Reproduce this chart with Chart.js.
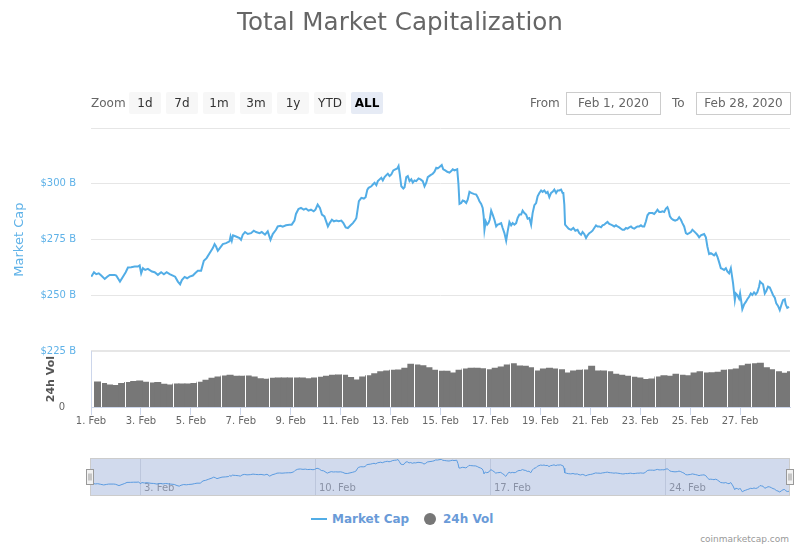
<!DOCTYPE html>
<html>
<head>
<meta charset="utf-8">
<script src="https://cdn.jsdelivr.net/npm/chart.js@4.4.1/dist/chart.umd.min.js"></script>
<style>
html,body{margin:0;padding:0;background:#fff;}
body{width:800px;height:550px;position:relative;overflow:hidden;font-family:'DejaVu Sans',sans-serif;}
canvas{position:absolute;left:0;}
#main{top:0;}
#nav{top:440px;}
.zoomlbl{position:absolute;left:91px;top:95px;font-size:12px;color:#666;line-height:16px;}
.btn{position:absolute;top:92px;width:32px;height:22px;background:#f7f7f7;border-radius:2px;font-size:12px;color:#333;text-align:center;line-height:22px;}
.btn.sel{background:#e6ebf5;font-weight:bold;color:#000;}
.lbl{position:absolute;top:95px;font-size:12px;color:#666;line-height:16px;}
.inp{position:absolute;top:92px;height:23px;box-sizing:border-box;border:1px solid #ccc;font-size:12px;color:#666;text-align:center;line-height:21px;}
.leg{position:absolute;font-size:12px;font-weight:bold;color:#6a9bd8;line-height:14px;top:512px;}
.credits{position:absolute;right:11px;top:534px;font-size:9px;color:#999;line-height:11px;}
</style>
</head>
<body>
<canvas id="main" width="800" height="437"></canvas>
<canvas id="nav" width="800" height="70"></canvas>

<div class="zoomlbl">Zoom</div>
<div class="btn" style="left:129px">1d</div>
<div class="btn" style="left:166px">7d</div>
<div class="btn" style="left:203px">1m</div>
<div class="btn" style="left:240px">3m</div>
<div class="btn" style="left:277px">1y</div>
<div class="btn" style="left:314px">YTD</div>
<div class="btn sel" style="left:351px">ALL</div>
<div class="lbl" style="left:530px">From</div>
<div class="inp" style="left:566px;width:95px">Feb 1, 2020</div>
<div class="lbl" style="left:672px">To</div>
<div class="inp" style="left:696px;width:95px">Feb 28, 2020</div>

<div style="position:absolute;left:311px;top:518px;width:16px;height:2px;background:#52ade6"></div>
<div class="leg" style="left:332px">Market Cap</div>
<div style="position:absolute;left:424px;top:513px;width:12px;height:12px;border-radius:50%;background:#777"></div>
<div class="leg" style="left:443px">24h Vol</div>
<div class="credits">coinmarketcap.com</div>

<script>
// ---- data (days since Feb 1, 2020 00:00 ; values in billions USD) ----
const mcapDays = [0.01,0.12,0.21,0.31,0.41,0.55,0.65,0.75,0.95,1.01,1.16,1.28,1.39,1.48,1.61,1.75,1.88,1.95,2.01,2.08,2.17,2.28,2.44,2.55,2.68,2.81,2.92,3.03,3.15,3.28,3.37,3.48,3.57,3.64,3.75,3.85,3.95,4.08,4.17,4.28,4.41,4.52,4.63,4.75,4.88,4.95,5.01,5.08,5.16,5.28,5.41,5.55,5.59,5.64,5.69,5.81,5.95,6.01,6.08,6.17,6.28,6.41,6.52,6.61,6.75,6.84,6.97,7.08,7.19,7.28,7.41,7.48,7.59,7.68,7.81,7.95,8.04,8.15,8.21,8.31,8.41,8.52,8.61,8.71,8.81,8.92,8.99,9.08,9.17,9.25,9.35,
9.49,9.56,9.65,9.73,9.83,9.92,10.03,10.11,10.20,10.29,10.40,10.49,10.59,10.63,10.69,10.73,10.83,10.93,11.00,11.07,11.12,11.23,11.29,11.36,11.43,11.49,11.56,11.63,11.69,11.76,11.83,11.89,11.96,12.03,12.11,12.19,12.27,12.32,12.37,12.43,12.51,12.56,12.63,12.69,12.76,12.83,12.89,12.96,13.03,13.12,13.20,13.29,13.36,13.43,13.49,13.60,13.69,13.76,13.83,13.89,13.96,14.05,14.11,14.19,14.27,14.36,14.43,14.49,14.56,14.67,14.72,14.76,14.83,14.89,14.96,15.03,15.09,15.16,15.23,15.33,15.43,15.49,15.56,15.63,15.69,15.73,15.76,15.81,15.87,15.92,15.97,16.03,16.09,16.16,16.23,16.29,16.36,16.43,16.49,16.56,16.63,16.69,16.76,16.83,16.89,16.96,17.03,17.09,17.16,17.23,17.29,17.36,17.43,17.49,17.56,17.63,17.69,17.76,17.83,17.89,17.96,18.03,18.09,18.16,18.23,18.29,18.36,18.43,18.49,18.56,18.63,18.69,18.76,18.83,18.89,
18.92,18.96,18.99,19.05,19.13,19.23,19.32,19.40,19.49,19.56,19.63,19.69,19.76,19.83,19.89,19.96,20.03,20.09,20.16,20.23,20.29,20.36,20.43,20.49,20.56,20.63,20.69,20.76,20.83,20.89,20.96,21.03,21.09,21.16,21.23,21.29,21.36,21.43,21.49,21.56,21.63,21.69,21.76,21.83,21.89,21.96,22.03,22.09,22.16,22.23,22.29,22.36,22.43,22.49,22.56,22.63,22.69,22.76,22.83,22.89,22.96,23.03,23.09,23.13,23.19,23.25,23.32,23.40,23.49,23.56,23.63,23.69,23.76,23.83,23.89,23.96,24.03,24.09,24.16,24.23,24.29,24.36,24.43,24.49,24.56,24.63,24.69,24.76,24.83,24.89,24.96,25.03,25.09,25.16,25.23,25.29,25.36,25.43,25.49,25.56,25.63,25.67,25.72,25.79,25.83,25.89,25.96,26.00,26.05,26.09,26.16,26.23,26.29,26.36,26.43,26.49,26.56,26.63,26.69,26.76,26.80,26.87,26.92,26.99,27.05,27.12,27.19,27.25,27.32,27.39,27.45,27.52,27.59,27.65,27.72,27.79,27.83,27.89,27.96];
const mcapValues = [258.4,260.4,259.5,259.9,258.9,257.4,258.4,259.2,259.2,258.9,256.2,258.4,260.4,262.5,262.6,262.9,262.9,263.4,259.9,262.2,261.4,261.9,260.7,260.4,259.2,260.4,259.5,260.4,259.5,258.9,258.4,256.2,255.0,256.9,258.3,257.7,258.4,258.9,259.9,261.0,261.0,265.5,266.7,268.9,271.2,273.0,271.9,270.0,271.2,273.0,273.4,274.2,276.4,274.5,276.9,276.4,275.7,274.9,277.2,278.4,277.5,277.9,279.0,278.4,277.9,278.4,277.2,278.7,274.9,277.5,279.4,280.9,281.2,280.8,281.4,281.7,281.7,283.5,286.5,288.7,289.2,288.4,288.9,288.0,288.4,287.7,288.4,290.7,289.2,286.2,285.4,
280.9,282.4,283.9,283.2,283.5,283.2,283.5,282.4,280.5,280.2,281.4,282.4,283.9,284.7,289.2,292.2,293.7,293.4,294.0,297.4,298.2,298.9,299.7,300.5,299.4,301.2,302.0,302.7,301.5,303.0,303.9,304.5,303.5,304.2,306.0,306.5,306.9,308.0,304.2,298.9,297.9,298.5,303.0,303.5,301.2,302.0,300.5,301.5,301.2,302.4,302.0,301.2,298.9,300.5,303.0,303.9,304.5,305.4,307.2,306.9,307.5,308.4,306.5,306.0,305.4,305.0,305.7,306.5,306.0,306.5,299.7,291.0,291.4,292.5,292.2,291.4,292.9,296.4,295.9,295.5,295.2,294.0,292.2,291.0,289.2,285.4,279.4,283.2,281.7,282.4,283.9,288.0,286.2,283.9,280.9,281.7,282.0,282.4,280.2,277.9,274.5,278.7,282.9,281.4,282.4,281.7,282.4,284.7,286.2,286.2,288.0,286.9,286.2,284.4,284.7,281.7,286.9,290.4,291.4,294.4,295.9,297.0,296.4,297.0,295.9,296.4,294.0,295.9,296.4,297.4,295.9,297.0,297.0,297.4,295.9,
295.9,290.7,281.7,280.9,279.9,279.4,280.2,279.0,279.4,277.9,277.2,278.4,277.5,275.7,276.9,277.9,278.4,279.0,280.2,281.4,280.9,280.9,280.5,281.4,281.7,282.4,282.9,282.0,281.7,281.4,280.9,281.4,280.9,280.5,279.9,279.4,279.4,280.2,279.9,280.5,280.9,280.2,279.9,280.5,280.9,280.9,281.4,280.9,280.9,283.2,285.9,286.9,286.9,286.9,286.5,287.4,288.4,287.4,287.4,287.7,287.4,288.9,289.5,288.4,285.4,284.4,283.9,283.5,283.9,285.0,283.9,282.4,280.9,277.9,277.5,277.9,278.4,279.4,278.7,277.9,277.2,276.0,276.9,277.2,277.5,276.0,271.9,268.5,268.9,268.5,267.9,268.9,267.4,264.9,262.2,261.9,261.4,262.2,260.7,259.9,262.2,259.2,255.4,247.9,250.9,250.2,248.6,250.9,247.1,243.8,245.9,247.1,248.3,249.4,250.9,250.2,251.4,250.5,251.4,253.9,256.2,255.4,255.0,250.9,252.0,253.9,253.5,252.0,250.2,249.0,246.4,245.3,243.4,245.6,247.9,248.3,245.9,244.4,244.9];

// 24h volume, billions USD, 116 evenly spaced samples from Feb 1 to Feb 29
const volValues = [91.6,85.7,80.9,78.5, 85.7,89.3,92.8,95.2, 90.4,88.1,89.3,83.3, 80.9,84.5,84.5,84.5,
  85.7,90.4,97.6,104.7, 109.5,113.1,115.4,111.9, 111.9,113.1,109.5,103.5, 101.2,104.7,105.9,105.9,
  105.9,105.9,105.9,103.5, 105.9,108.3,111.9,115.4, 116.6,115.4,107.1,98.8, 109.5,114.2,121.4,128.5,
  130.9,133.3,134.5,140.4, 154.7,152.3,149.9,142.8, 133.3,129.7,129.7,123.8, 133.3,138.0,140.4,140.4,
  139.2,135.7,140.4,145.2, 152.3,157.1,148.8,147.6, 142.8,130.9,138.0,140.4, 138.0,135.7,123.8,130.9,
  133.3,134.5,147.6,130.9, 130.9,128.5,119.0,115.4, 111.9,108.3,105.9,100.0, 102.3,109.5,114.2,111.9,
  119.0,115.4,114.2,123.8, 128.5,123.8,125.0,126.1, 133.3,135.7,138.0,149.9, 154.7,157.1,158.3,142.8,
  135.7,128.5,122.6,128.5];
const volLabels = volValues.map((v, i) => 'P' + i);

const capTicks = [225, 250, 275, 300, 325];
const dayTicks = [0,2,4,6,8,10,12,14,16,18,20,22,24,26];
const navTicks = [2, 9, 16, 23];
const monthName = 'Feb';

// ---- styles ----
const LINE = '#52ade6';
const BLUE_TXT = '#5fb2e8';
Chart.defaults.font.family = "'DejaVu Sans', sans-serif";
Chart.defaults.color = '#666';

const mcapPoints = mcapDays.map((d, i) => ({x: d, y: mcapValues[i]}));
const dayLabel = v => (v + 1) + '. ' + monthName;

// thin white separators between groups of volume columns (uses the bar elements' own geometry)
const volGapPlugin = {
  id: 'volGaps',
  afterDatasetDraw(chart, args) {
    if (args.meta.type !== 'bar') return;
    const ctx = chart.ctx;
    const els = args.meta.data;
    ctx.save();
    ctx.fillStyle = '#ffffff';
    els.forEach((bar, i) => {
      if (i % 4 !== 1 || i === 0) return;
      const edge = Math.round((els[i - 1].x + bar.x) / 2);
      const top = Math.min(bar.y, els[i - 1].y);
      ctx.fillRect(edge, top - 1, 1, bar.base - top + 1);
    });
    ctx.restore();
  }
};

new Chart(document.getElementById('main'), {
  type: 'line',
  data: {
    labels: volLabels,
    datasets: [
      {
        type: 'line', label: 'Market Cap', data: mcapPoints,
        xAxisID: 'x', yAxisID: 'y',
        borderColor: LINE, borderWidth: 2, pointRadius: 0, tension: 0, fill: false, order: 0
      },
      {
        type: 'bar', label: '24h Vol', data: volValues,
        xAxisID: 'xv', yAxisID: 'yv',
        backgroundColor: '#777777', borderWidth: 0, inflateAmount: 0,
        barThickness: 7, order: 1
      }
    ]
  },
  options: {
    responsive: false, animation: false, devicePixelRatio: 1,
    layout: {padding: {top: 0, right: 10, bottom: 0, left: 10}},
    plugins: {
      legend: {display: false}, tooltip: {enabled: false},
      title: {
        display: true, text: 'Total Market Capitalization', color: '#666',
        font: {size: 24.6, weight: 'normal', lineHeight: 1.2}, padding: {top: 9, bottom: 89.5}
      }
    },
    scales: {
      x: {
        type: 'linear', position: 'bottom', min: 0, max: 28,
        afterBuildTicks: s => { s.ticks = dayTicks.map(v => ({value: v})); },
        afterFit: s => { s.height = 30; },
        ticks: {callback: v => dayLabel(v), font: {size: 10}, color: '#666', maxRotation: 0, autoSkip: false, padding: 0},
        grid: {display: true, drawOnChartArea: false, drawTicks: true, tickLength: 8, color: '#ccd6eb'},
        border: {display: true, color: '#ccd6eb'}
      },
      xv: {
        type: 'category', position: 'bottom', display: false, offset: true,
        grid: {offset: false}
      },
      y: {
        type: 'linear', position: 'left', stack: 'panes', stackWeight: 4, weight: 2,
        min: 225, max: 325,
        afterBuildTicks: s => { s.ticks = capTicks.map(v => ({value: v})); },
        afterFit: s => { s.width = 81; },
        ticks: {callback: v => (v === 325 ? '' : '$' + v + ' B'), color: BLUE_TXT, font: {size: 10}, padding: 15},
        grid: {color: '#e6e6e6', drawTicks: false, lineWidth: c => (c.tick && c.tick.value === 225 ? 2 : 1)},
        border: {display: false},
        title: {display: true, text: 'Market Cap', color: BLUE_TXT, font: {size: 13}, padding: {top: 2, bottom: 0}}
      },
      yv: {
        type: 'linear', position: 'left', stack: 'panes', stackWeight: 1, weight: 1,
        min: 0, max: 200,
        afterBuildTicks: s => { s.ticks = [{value: 0}]; },
        afterFit: s => { s.width = 81; },
        ticks: {color: '#666', font: {size: 10}, padding: 18},
        grid: {display: false},
        border: {display: true, color: '#ccd6eb'},
        title: {display: true, text: '24h Vol', color: '#555', font: {size: 11, weight: 'bold'}, padding: {top: 35, bottom: 0}}
      }
    }
  },
  plugins: [volGapPlugin]
});

// ---- navigator ----
const navPlugin = {
  id: 'navDecor',
  beforeDraw(chart) {
    const {ctx, chartArea: a} = chart;
    const bottom = chart.scales.x.bottom;
    ctx.save();
    ctx.fillStyle = 'rgba(102,133,194,0.3)';
    ctx.fillRect(a.left, a.top, a.right - a.left, bottom - a.top);
    ctx.restore();
  },
  afterDraw(chart) {
    const {ctx, chartArea: a} = chart;
    const bottom = chart.scales.x.bottom;
    ctx.save();
    ctx.strokeStyle = '#cccccc';
    ctx.lineWidth = 1;
    ctx.strokeRect(Math.round(a.left) + 0.5, Math.round(a.top) + 0.5, Math.round(a.right - a.left) - 1, Math.round(bottom - a.top));
    const mid = (a.top + bottom) / 2;
    [a.left, a.right].forEach(x => {
      const hx = Math.round(x - 4) + 0.5, hy = Math.round(mid - 8) + 0.5;
      ctx.fillStyle = '#f2f2f2';
      ctx.strokeStyle = '#999999';
      ctx.fillRect(hx, hy, 7, 15);
      ctx.strokeRect(hx, hy, 7, 15);
      ctx.beginPath();
      ctx.moveTo(hx + 2.5, hy + 4); ctx.lineTo(hx + 2.5, hy + 11);
      ctx.moveTo(hx + 4.5, hy + 4); ctx.lineTo(hx + 4.5, hy + 11);
      ctx.stroke();
    });
    ctx.restore();
  }
};

new Chart(document.getElementById('nav'), {
  type: 'line',
  data: {
    datasets: [{
      label: 'Market Cap', data: mcapPoints, clip: false,
      borderColor: '#5b9be0', borderWidth: 1, pointRadius: 0, tension: 0, fill: false
    }]
  },
  options: {
    responsive: false, animation: false, devicePixelRatio: 1,
    layout: {padding: {top: 18, right: 10, bottom: 15, left: 90}},
    plugins: {legend: {display: false}, tooltip: {enabled: false}, title: {display: false}},
    scales: {
      x: {
        type: 'linear', min: 0, max: 28,
        afterBuildTicks: s => { s.ticks = navTicks.map(v => ({value: v})); },
        afterFit: s => { s.height = 13; },
        ticks: {callback: v => dayLabel(v), align: 'start', labelOffset: 4, padding: -13, font: {size: 10}, color: '#8a92a6', maxRotation: 0, autoSkip: false},
        grid: {display: true, drawOnChartArea: true, drawTicks: true, tickLength: 13, color: '#bcc6dc'},
        border: {display: false}
      },
      y: {display: false, min: 263.3, max: 311}
    }
  },
  plugins: [navPlugin]
});
</script>
</body>
</html>
